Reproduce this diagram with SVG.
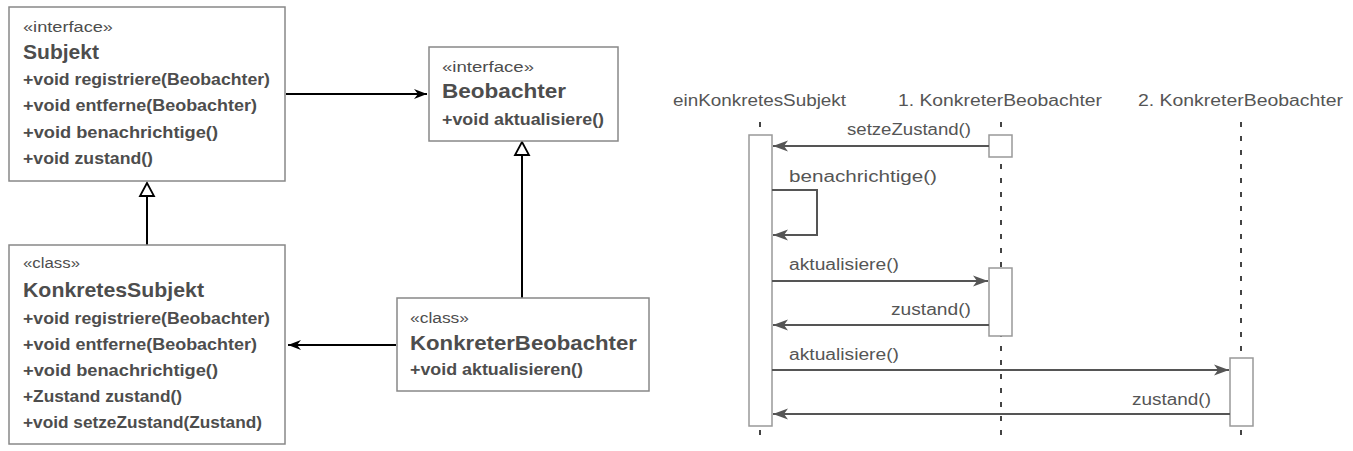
<svg xmlns="http://www.w3.org/2000/svg" width="1353" height="451" viewBox="0 0 1353 451">
<style>
.box{fill:#fff;stroke:#888;stroke-width:1.5}
.act{fill:#fff;stroke:#999;stroke-width:1.5}
text{font-family:"Liberation Sans","DejaVu Sans",sans-serif;fill:#4d4d4d}
.st{font-size:14px}
.nm{font-size:21px;font-weight:bold}
.me{font-size:16px;font-weight:bold}
.sq{font-size:16px;fill:#555}
.cl{stroke:#000;stroke-width:2;fill:none}
.msg{stroke:#555;stroke-width:2;fill:none}
.life{stroke:#444;stroke-width:2;stroke-dasharray:5 9;fill:none}
</style>
<defs>
<marker id="ah" markerWidth="14" markerHeight="12" refX="13" refY="6" orient="auto" markerUnits="userSpaceOnUse">
<path d="M0,1 L13,6 L0,11 L4,6 Z" fill="#000"/>
</marker>
<marker id="sh" markerWidth="16" markerHeight="12" refX="15" refY="6" orient="auto" markerUnits="userSpaceOnUse">
<path d="M0,0.5 L15,6 L0,11.5 L4,6 Z" fill="#555"/>
</marker>
</defs>

<g id="connectors">
<line class="cl" x1="286" y1="94" x2="427" y2="94" marker-end="url(#ah)"/>
<line class="cl" x1="396" y1="345" x2="288" y2="345" marker-end="url(#ah)"/>
<line class="cl" x1="147" y1="245" x2="147" y2="196"/>
<path d="M147,183 L154,196 L140,196 Z" fill="#fff" stroke="#000" stroke-width="1.8"/>
<line class="cl" x1="522" y1="298" x2="522" y2="155"/>
<path d="M522,142 L529,155 L515,155 Z" fill="#fff" stroke="#000" stroke-width="1.8"/>
</g>

<g id="subjekt">
<rect class="box" x="9" y="7" width="276" height="174"/>
<text class="st" x="23" y="32" textLength="90" lengthAdjust="spacingAndGlyphs">«interface»</text>
<text class="nm" x="23" y="59" textLength="76" lengthAdjust="spacingAndGlyphs">Subjekt</text>
<text class="me" x="23" y="85" textLength="247" lengthAdjust="spacingAndGlyphs">+void registriere(Beobachter)</text>
<text class="me" x="23" y="111" textLength="234" lengthAdjust="spacingAndGlyphs">+void entferne(Beobachter)</text>
<text class="me" x="23" y="138" textLength="195" lengthAdjust="spacingAndGlyphs">+void benachrichtige()</text>
<text class="me" x="23" y="164" textLength="130" lengthAdjust="spacingAndGlyphs">+void zustand()</text>
</g>

<g id="beobachter">
<rect class="box" x="429" y="47" width="189" height="94"/>
<text class="st" x="442" y="72" textLength="92" lengthAdjust="spacingAndGlyphs">«interface»</text>
<text class="nm" x="442" y="98" textLength="124" lengthAdjust="spacingAndGlyphs">Beobachter</text>
<text class="me" x="442" y="125" textLength="162" lengthAdjust="spacingAndGlyphs">+void aktualisiere()</text>
</g>

<g id="konkretesSubjekt">
<rect class="box" x="9" y="245" width="276" height="199"/>
<text class="st" x="23" y="268" textLength="57" lengthAdjust="spacingAndGlyphs">«class»</text>
<text class="nm" x="23" y="297" textLength="181" lengthAdjust="spacingAndGlyphs">KonkretesSubjekt</text>
<text class="me" x="23" y="324" textLength="247" lengthAdjust="spacingAndGlyphs">+void registriere(Beobachter)</text>
<text class="me" x="23" y="350" textLength="234" lengthAdjust="spacingAndGlyphs">+void entferne(Beobachter)</text>
<text class="me" x="23" y="376" textLength="195" lengthAdjust="spacingAndGlyphs">+void benachrichtige()</text>
<text class="me" x="23" y="402" textLength="159" lengthAdjust="spacingAndGlyphs">+Zustand zustand()</text>
<text class="me" x="23" y="428" textLength="239" lengthAdjust="spacingAndGlyphs">+void setzeZustand(Zustand)</text>
</g>

<g id="konkreterBeobachter">
<rect class="box" x="397" y="298" width="252" height="93"/>
<text class="st" x="410" y="323" textLength="59" lengthAdjust="spacingAndGlyphs">«class»</text>
<text class="nm" x="410" y="350" textLength="227" lengthAdjust="spacingAndGlyphs">KonkreterBeobachter</text>
<text class="me" x="410" y="375" textLength="173" lengthAdjust="spacingAndGlyphs">+void aktualisieren()</text>
</g>

<g id="seq-einKonkretesSubjekt">
<text class="sq" x="673" y="106" textLength="173" lengthAdjust="spacingAndGlyphs">einKonkretesSubjekt</text>
<line class="life" x1="760" y1="122" x2="760" y2="440"/>
<rect class="act" x="749" y="135" width="23" height="291"/>
</g>

<g id="seq-beobachter1">
<text class="sq" x="898" y="106" textLength="204" lengthAdjust="spacingAndGlyphs">1. KonkreterBeobachter</text>
<line class="life" x1="1001" y1="122" x2="1001" y2="440"/>
<rect class="act" x="989" y="135" width="23" height="22"/>
<rect class="act" x="989" y="268" width="23" height="68"/>
</g>

<g id="seq-beobachter2">
<text class="sq" x="1138" y="106" textLength="205" lengthAdjust="spacingAndGlyphs">2. KonkreterBeobachter</text>
<line class="life" x1="1241" y1="122" x2="1241" y2="440"/>
<rect class="act" x="1230" y="358" width="23" height="68"/>
</g>

<g id="messages">
<line class="msg" x1="989" y1="146" x2="773" y2="146" marker-end="url(#sh)"/>
<text class="sq" x="847" y="135" textLength="124" lengthAdjust="spacingAndGlyphs">setzeZustand()</text>
<path class="msg" d="M772,190 H817 V235 H773" marker-end="url(#sh)"/>
<text class="sq" x="789" y="182" textLength="148" lengthAdjust="spacingAndGlyphs">benachrichtige()</text>
<line class="msg" x1="772" y1="281" x2="988" y2="281" marker-end="url(#sh)"/>
<text class="sq" x="789" y="270" textLength="110" lengthAdjust="spacingAndGlyphs">aktualisiere()</text>
<line class="msg" x1="989" y1="325" x2="773" y2="325" marker-end="url(#sh)"/>
<text class="sq" x="891" y="315" textLength="80" lengthAdjust="spacingAndGlyphs">zustand()</text>
<line class="msg" x1="772" y1="370" x2="1229" y2="370" marker-end="url(#sh)"/>
<text class="sq" x="789" y="360" textLength="110" lengthAdjust="spacingAndGlyphs">aktualisiere()</text>
<line class="msg" x1="1230" y1="414" x2="773" y2="414" marker-end="url(#sh)"/>
<text class="sq" x="1132" y="405" textLength="79" lengthAdjust="spacingAndGlyphs">zustand()</text>
</g>
</svg>
